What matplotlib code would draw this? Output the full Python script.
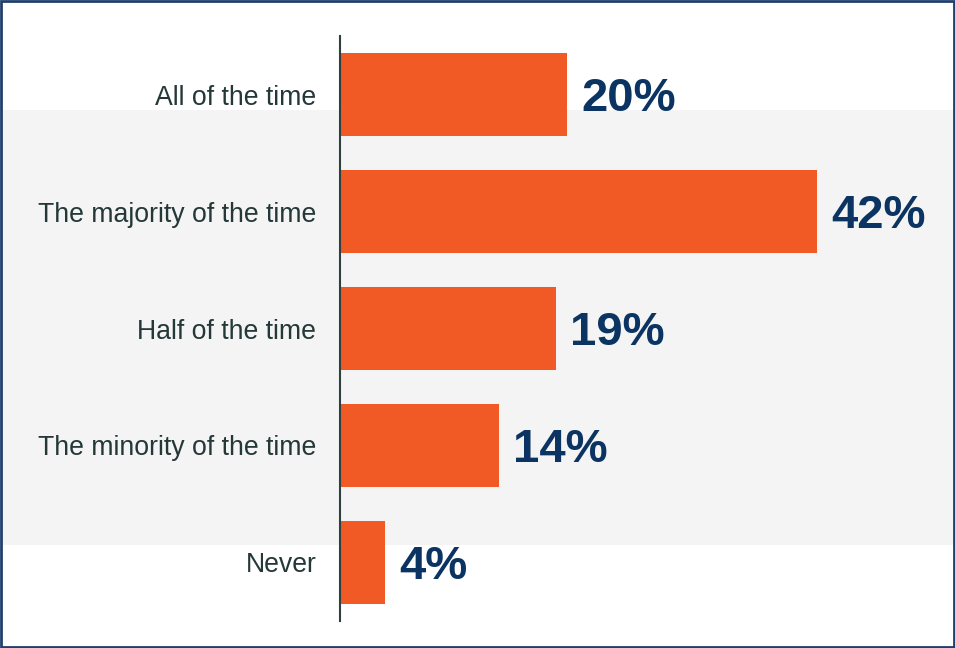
import matplotlib
matplotlib.use("Agg")
import matplotlib.pyplot as plt
from matplotlib.patches import Rectangle

categories = ["All of the time", "The majority of the time", "Half of the time",
              "The minority of the time", "Never"]
values = [20, 42, 19, 14, 4]
value_labels = ["20%", "42%", "19%", "14%", "4%"]

plt.rcParams['font.family'] = ['Liberation Sans', 'DejaVu Sans']

fig = plt.figure(figsize=(9.55, 6.48), dpi=100)
fig.patch.set_facecolor('white')

# gray band behind
fig.patches.append(Rectangle((0.002, 0.159), 0.996, 0.671, transform=fig.transFigure,
                             facecolor='#F4F4F4', edgecolor='none', zorder=-10))
# border
fig.patches.append(Rectangle((0.001, 0.0015), 0.998, 0.997, transform=fig.transFigure,
                             facecolor='none', edgecolor='#1F3F6F', linewidth=2, zorder=10))

ax = fig.add_axes([0.356, 0.0417, 0.644, 0.9027])
ax.set_facecolor('none')
y = list(range(len(categories)))
ax.barh(y, values, height=0.71, color='#F15A24', zorder=2)
ax.set_ylim(len(categories) - 0.5, -0.5)
ax.set_xlim(0, 54.1)
ax.set_yticks(y)
ax.set_yticklabels(categories, fontsize=19.2, color='#253838')
ax.tick_params(axis='y', length=0, pad=17)
ax.set_xticks([])
for s in ['top', 'right', 'bottom']:
    ax.spines[s].set_visible(False)
ax.spines['left'].set_color('#2F3F3F')
ax.spines['left'].set_linewidth(1.5)

for yi, v, lab in zip(y, values, value_labels):
    ax.annotate(lab, xy=(v, yi), xytext=(10, -3), textcoords='offset points',
                va='center', ha='left', fontsize=34, fontweight='bold', color='#0B3463')

fig.savefig('out.png', dpi=100)
